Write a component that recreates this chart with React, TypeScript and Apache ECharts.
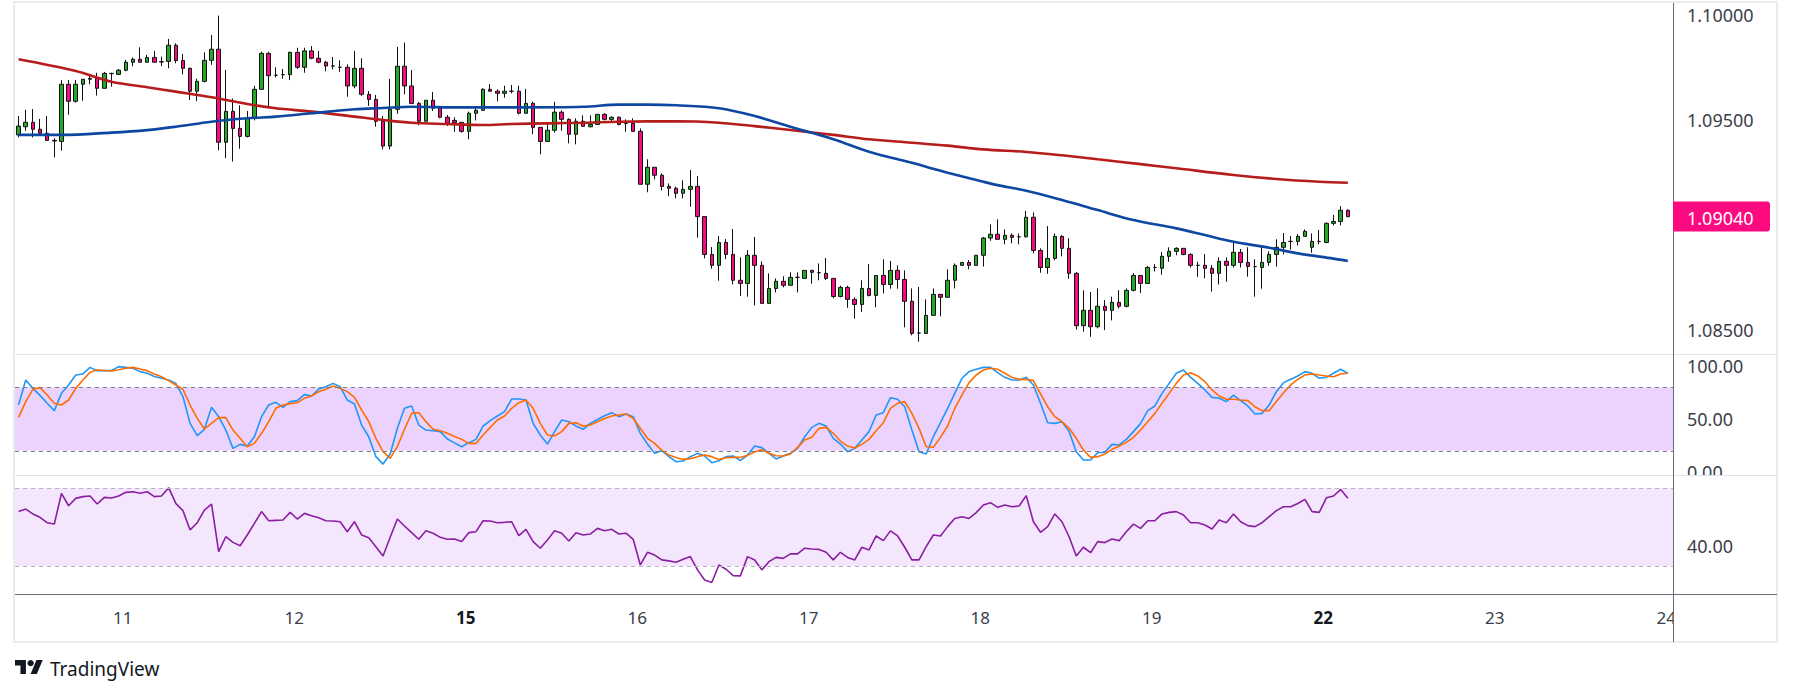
import React, { useEffect, useRef } from 'react';
import * as echarts from 'echarts';

// ---------- categories (hourly candles) ----------
const dayLabels = ['10', '11', '12', '15', '16', '17', '18', '19', '22', '23', '24'];
const firstDayFromHour = 10;
const lastDayToHour = 2;
const boldDays = ['15', '22'];

// ---------- price (OHLC) ----------
const opens = [
  1.09429, 1.09468, 1.09489, 1.09456, 1.09437, 1.09403, 1.09398, 1.09670, 1.09589, 1.09670,
  1.09694, 1.09698, 1.09651, 1.09722, 1.09717, 1.09737, 1.09775, 1.09789, 1.09775, 1.09798,
  1.09778, 1.09779, 1.09856, 1.09783, 1.09746, 1.09637, 1.09684, 1.09784, 1.09837, 1.09394,
  1.09541, 1.09460, 1.09422, 1.09508, 1.09646, 1.09817, 1.09713, 1.09716, 1.09716, 1.09822,
  1.09751, 1.09829, 1.09794, 1.09775, 1.09757, 1.09751, 1.09751, 1.09662, 1.09746, 1.09622,
  1.09598, 1.09494, 1.09376, 1.09551, 1.09756, 1.09662, 1.09579, 1.09494, 1.09594, 1.09556,
  1.09513, 1.09498, 1.09489, 1.09446, 1.09532, 1.09546, 1.09646, 1.09637, 1.09627, 1.09637,
  1.09637, 1.09532, 1.09579, 1.09465, 1.09398, 1.09451, 1.09537, 1.09503, 1.09432, 1.09494,
  1.09468, 1.09479, 1.09527, 1.09503, 1.09513, 1.09483, 1.09484, 1.09446, 1.09194, 1.09275,
  1.09237, 1.09184, 1.09175, 1.09151, 1.09170, 1.09184, 1.09040, 1.08860, 1.08808, 1.08917,
  1.08860, 1.08737, 1.08722, 1.08856, 1.08808, 1.08627, 1.08698, 1.08732, 1.08713, 1.08751,
  1.08746, 1.08784, 1.08773, 1.08770, 1.08746, 1.08660, 1.08703, 1.08646, 1.08622, 1.08698,
  1.08665, 1.08760, 1.08717, 1.08784, 1.08741, 1.08637, 1.08486, 1.08484, 1.08570, 1.08670,
  1.08656, 1.08737, 1.08808, 1.08822, 1.08808, 1.08856, 1.08938, 1.08956, 1.08932, 1.08951,
  1.08944, 1.08944, 1.09037, 1.08879, 1.08798, 1.08841, 1.08946, 1.08889, 1.08770, 1.08521,
  1.08594, 1.08516, 1.08613, 1.08594, 1.08632, 1.08613, 1.08689, 1.08760, 1.08722, 1.08798,
  1.08794, 1.08851, 1.08875, 1.08889, 1.08860, 1.08808, 1.08808, 1.08794, 1.08770, 1.08827,
  1.08808, 1.08870, 1.08822, 1.08802, 1.08798, 1.08822, 1.08860, 1.08894, 1.08922, 1.08922,
  1.08946, 1.08894, 1.08922, 1.08917, 1.09008, 1.09017, 1.09070,
];
const highs = [
  1.09519, 1.09548, 1.09552, 1.09505, 1.09519, 1.09413, 1.09690, 1.09690, 1.09690, 1.09694,
  1.09710, 1.09725, 1.09729, 1.09725, 1.09743, 1.09786, 1.09798, 1.09846, 1.09810, 1.09829,
  1.09802, 1.09886, 1.09865, 1.09814, 1.09749, 1.09697, 1.09822, 1.09905, 1.09997, 1.09738,
  1.09602, 1.09570, 1.09543, 1.09662, 1.09825, 1.09825, 1.09751, 1.09743, 1.09825, 1.09844,
  1.09844, 1.09852, 1.09829, 1.09781, 1.09800, 1.09784, 1.09765, 1.09829, 1.09794, 1.09638,
  1.09619, 1.09519, 1.09695, 1.09848, 1.09868, 1.09738, 1.09586, 1.09594, 1.09633, 1.09560,
  1.09524, 1.09513, 1.09489, 1.09540, 1.09560, 1.09651, 1.09671, 1.09646, 1.09663, 1.09667,
  1.09663, 1.09648, 1.09587, 1.09465, 1.09484, 1.09586, 1.09546, 1.09508, 1.09508, 1.09522,
  1.09522, 1.09527, 1.09532, 1.09517, 1.09517, 1.09503, 1.09508, 1.09460, 1.09313, 1.09275,
  1.09246, 1.09198, 1.09183, 1.09213, 1.09262, 1.09233, 1.09040, 1.08895, 1.08948, 1.08933,
  1.08981, 1.08846, 1.08881, 1.08943, 1.08827, 1.08770, 1.08746, 1.08756, 1.08775, 1.08775,
  1.08784, 1.08787, 1.08817, 1.08843, 1.08746, 1.08711, 1.08711, 1.08656, 1.08737, 1.08814,
  1.08760, 1.08837, 1.08829, 1.08808, 1.08784, 1.08698, 1.08705, 1.08646, 1.08698, 1.08670,
  1.08789, 1.08817, 1.08822, 1.08833, 1.08856, 1.08943, 1.09003, 1.09027, 1.08979, 1.08960,
  1.08960, 1.09067, 1.09060, 1.08889, 1.08995, 1.08960, 1.08952, 1.08937, 1.08776, 1.08689,
  1.08681, 1.08698, 1.08643, 1.08659, 1.08690, 1.08698, 1.08771, 1.08760, 1.08805, 1.08814,
  1.08871, 1.08894, 1.08894, 1.08889, 1.08865, 1.08825, 1.08862, 1.08810, 1.08846, 1.08846,
  1.08925, 1.08886, 1.08894, 1.08837, 1.08894, 1.08875, 1.08932, 1.08962, 1.08948, 1.08957,
  1.08979, 1.08960, 1.08976, 1.09013, 1.09048, 1.09090, 1.09075,
];
const lows = [
  1.09417, 1.09449, 1.09417, 1.09429, 1.09403, 1.09322, 1.09354, 1.09525, 1.09583, 1.09592,
  1.09670, 1.09616, 1.09651, 1.09659, 1.09714, 1.09732, 1.09756, 1.09775, 1.09775, 1.09775,
  1.09757, 1.09746, 1.09770, 1.09717, 1.09595, 1.09590, 1.09679, 1.09763, 1.09356, 1.09318,
  1.09302, 1.09363, 1.09417, 1.09498, 1.09643, 1.09563, 1.09703, 1.09697, 1.09690, 1.09743,
  1.09725, 1.09789, 1.09770, 1.09732, 1.09741, 1.09729, 1.09611, 1.09651, 1.09614, 1.09567,
  1.09468, 1.09360, 1.09360, 1.09530, 1.09622, 1.09575, 1.09475, 1.09494, 1.09543, 1.09508,
  1.09471, 1.09444, 1.09440, 1.09408, 1.09498, 1.09546, 1.09637, 1.09589, 1.09606, 1.09627,
  1.09527, 1.09532, 1.09432, 1.09337, 1.09398, 1.09440, 1.09449, 1.09389, 1.09384, 1.09470,
  1.09465, 1.09479, 1.09498, 1.09494, 1.09475, 1.09444, 1.09444, 1.09194, 1.09156, 1.09217,
  1.09165, 1.09137, 1.09127, 1.09127, 1.09087, 1.08940, 1.08841, 1.08792, 1.08735, 1.08837,
  1.08717, 1.08662, 1.08659, 1.08617, 1.08627, 1.08627, 1.08679, 1.08703, 1.08713, 1.08679,
  1.08743, 1.08721, 1.08737, 1.08738, 1.08651, 1.08656, 1.08606, 1.08554, 1.08586, 1.08660,
  1.08608, 1.08675, 1.08697, 1.08697, 1.08513, 1.08475, 1.08444, 1.08484, 1.08570, 1.08565,
  1.08656, 1.08698, 1.08808, 1.08789, 1.08808, 1.08802, 1.08925, 1.08932, 1.08908, 1.08913,
  1.08908, 1.08941, 1.08865, 1.08773, 1.08768, 1.08832, 1.08851, 1.08744, 1.08502, 1.08492,
  1.08468, 1.08508, 1.08500, 1.08546, 1.08603, 1.08608, 1.08684, 1.08676, 1.08722, 1.08779,
  1.08763, 1.08825, 1.08856, 1.08856, 1.08798, 1.08754, 1.08746, 1.08683, 1.08717, 1.08730,
  1.08798, 1.08798, 1.08754, 1.08659, 1.08697, 1.08806, 1.08802, 1.08860, 1.08883, 1.08903,
  1.08946, 1.08868, 1.08908, 1.08913, 1.08998, 1.08998, 1.09037,
];
const closes = [
  1.09471, 1.09489, 1.09456, 1.09437, 1.09403, 1.09400, 1.09670, 1.09589, 1.09670, 1.09694,
  1.09698, 1.09651, 1.09722, 1.09721, 1.09737, 1.09775, 1.09789, 1.09775, 1.09798, 1.09775,
  1.09776, 1.09856, 1.09783, 1.09746, 1.09637, 1.09684, 1.09784, 1.09837, 1.09394, 1.09541,
  1.09460, 1.09422, 1.09508, 1.09646, 1.09817, 1.09711, 1.09713, 1.09716, 1.09822, 1.09751,
  1.09829, 1.09794, 1.09775, 1.09757, 1.09757, 1.09751, 1.09662, 1.09746, 1.09622, 1.09598,
  1.09494, 1.09376, 1.09551, 1.09756, 1.09662, 1.09579, 1.09494, 1.09594, 1.09556, 1.09513,
  1.09484, 1.09487, 1.09446, 1.09532, 1.09546, 1.09646, 1.09637, 1.09627, 1.09637, 1.09637,
  1.09532, 1.09579, 1.09465, 1.09398, 1.09451, 1.09537, 1.09503, 1.09432, 1.09494, 1.09470,
  1.09479, 1.09527, 1.09503, 1.09513, 1.09479, 1.09483, 1.09446, 1.09194, 1.09275, 1.09237,
  1.09184, 1.09175, 1.09151, 1.09170, 1.09184, 1.09040, 1.08860, 1.08808, 1.08917, 1.08860,
  1.08737, 1.08722, 1.08856, 1.08808, 1.08627, 1.08698, 1.08732, 1.08713, 1.08751, 1.08751,
  1.08784, 1.08775, 1.08773, 1.08746, 1.08660, 1.08703, 1.08646, 1.08622, 1.08698, 1.08665,
  1.08760, 1.08717, 1.08784, 1.08741, 1.08637, 1.08484, 1.08486, 1.08570, 1.08670, 1.08656,
  1.08737, 1.08808, 1.08822, 1.08808, 1.08856, 1.08938, 1.08956, 1.08932, 1.08951, 1.08941,
  1.08944, 1.09037, 1.08879, 1.08798, 1.08841, 1.08946, 1.08889, 1.08770, 1.08521, 1.08594,
  1.08516, 1.08613, 1.08594, 1.08632, 1.08613, 1.08689, 1.08760, 1.08722, 1.08798, 1.08798,
  1.08851, 1.08875, 1.08889, 1.08860, 1.08808, 1.08808, 1.08794, 1.08770, 1.08827, 1.08808,
  1.08870, 1.08822, 1.08803, 1.08802, 1.08822, 1.08860, 1.08894, 1.08917, 1.08922, 1.08946,
  1.08970, 1.08922, 1.08922, 1.09008, 1.09017, 1.09070, 1.09040,
];
const lastPrice = 1.0904;

// ---------- moving averages: [candle index, value] ----------
const maRed = [
  [0, 1.09789], [8, 1.09733], [13, 1.09682], [18, 1.09656], [22, 1.09635], [27, 1.09608],
  [32, 1.09576], [36, 1.09556], [41, 1.0954], [47, 1.09516], [51, 1.095], [55, 1.09487],
  [60, 1.09481], [65, 1.09476], [69, 1.09481], [74, 1.09484], [79, 1.09487], [84, 1.09492],
  [92, 1.09494], [98, 1.09487], [103, 1.09471], [108, 1.09452], [114, 1.09429], [119, 1.09408],
  [125, 1.09392], [130, 1.09378], [135, 1.0936], [141, 1.09348], [146, 1.09332], [151, 1.09313],
  [157, 1.0929], [162, 1.0927], [170, 1.09238], [176, 1.09219], [182, 1.09206], [186, 1.09201],
];
const maBlue = [
  [0, 1.09429], [6, 1.09429], [13, 1.0944], [18, 1.09452], [22, 1.09468], [27, 1.09492],
  [32, 1.09508], [36, 1.09516], [41, 1.09532], [47, 1.09551], [51, 1.09557], [55, 1.09563],
  [62, 1.0956], [70, 1.0956], [79, 1.09563], [84, 1.09573], [88, 1.09573], [92, 1.0957],
  [98, 1.09556], [103, 1.09519], [108, 1.09468], [114, 1.09408], [119, 1.09349], [125, 1.09296],
  [128, 1.09268], [130, 1.09249], [135, 1.09206], [137, 1.0919], [141, 1.09163], [146, 1.09119],
  [151, 1.09071], [156, 1.09024], [162, 1.08984], [166, 1.08952], [170, 1.0892], [175, 1.08892],
  [179, 1.08865], [184, 1.0884], [186, 1.08829],
];

// ---------- stochastic ----------
const stochK = [
  63.2, 86.8, 78.9, 72.3, 64.8, 57.9, 74.2, 82.0, 91.5, 92.5,
  98.7, 95.6, 95.6, 95.6, 99.4, 98.7, 97.8, 94.7, 93.1, 90.0,
  88.4, 86.8, 83.6, 71.1, 45.9, 34.3, 40.3, 61.0, 52.2, 39.6,
  22.3, 26.1, 24.5, 33.3, 52.2, 63.2, 65.7, 61.0, 66.4, 67.3,
  73.0, 71.7, 78.3, 80.5, 83.6, 80.5, 67.9, 64.2, 44.3, 33.3,
  14.5, 7.5, 17.0, 41.2, 60.1, 62.3, 44.3, 39.6, 39.0, 38.1,
  31.1, 27.5, 23.9, 27.7, 30.8, 43.4, 48.4, 52.8, 56.9, 68.9,
  68.9, 67.9, 45.9, 34.9, 26.4, 38.1, 49.1, 47.5, 43.4, 40.3,
  45.9, 49.5, 53.0, 56.0, 52.2, 54.7, 52.2, 36.5, 26.4, 17.6,
  20.1, 14.5, 9.7, 10.4, 14.5, 17.6, 15.1, 8.8, 10.7, 14.5,
  15.1, 10.7, 16.0, 24.5, 23.0, 17.6, 12.3, 15.1, 17.6, 22.3,
  33.3, 42.1, 45.9, 43.4, 31.8, 26.4, 19.2, 22.3, 30.2, 38.1,
  53.8, 56.0, 70.1, 68.6, 61.6, 39.6, 19.2, 17.0, 33.3, 46.5,
  60.1, 74.2, 88.4, 94.7, 96.9, 98.7, 98.7, 93.7, 89.3, 86.8,
  86.8, 89.3, 82.1, 64.8, 46.5, 45.9, 47.5, 38.1, 19.2, 11.3,
  11.3, 18.2, 18.6, 26.1, 25.5, 30.8, 38.1, 45.9, 57.9, 62.3,
  74.2, 83.6, 93.1, 96.2, 89.3, 83.6, 77.4, 70.4, 69.5, 66.4,
  72.6, 67.3, 62.3, 54.7, 55.3, 63.2, 75.8, 84.3, 87.4, 90.6,
  94.7, 93.1, 88.4, 89.3, 93.1, 96.9, 93.1,
];
const stochD = [
  51.6, 66.4, 78.0, 79.6, 72.6, 64.8, 63.2, 67.9, 78.9, 86.8,
  94.0, 96.2, 95.8, 95.3, 96.5, 97.8, 98.7, 97.2, 95.6, 92.5,
  89.9, 86.2, 82.1, 78.0, 63.2, 50.6, 40.6, 45.9, 51.3, 51.3,
  39.6, 31.8, 23.9, 27.0, 36.5, 47.5, 60.1, 63.2, 64.5, 65.4,
  69.5, 71.7, 75.8, 78.0, 81.1, 78.9, 75.8, 70.4, 58.5, 47.5,
  31.8, 19.2, 12.9, 23.9, 40.3, 55.3, 56.0, 47.5, 40.3, 39.0,
  36.5, 33.5, 30.8, 27.0, 27.0, 34.9, 42.1, 49.1, 52.8, 60.1,
  65.4, 67.9, 60.1, 45.9, 34.9, 34.0, 38.1, 45.9, 46.5, 43.4,
  44.3, 47.5, 50.5, 52.8, 53.8, 54.7, 50.6, 41.2, 31.8, 27.0,
  20.4, 16.0, 13.8, 11.9, 12.6, 14.5, 16.0, 14.5, 11.9, 13.5,
  13.8, 13.8, 15.7, 18.9, 21.1, 17.6, 15.4, 15.1, 17.0, 23.3,
  30.2, 32.7, 41.2, 42.1, 36.5, 29.2, 24.5, 22.6, 26.1, 30.8,
  39.0, 46.5, 60.1, 64.8, 66.4, 55.3, 41.2, 23.9, 23.3, 32.7,
  43.4, 60.1, 72.6, 84.3, 91.5, 96.2, 97.8, 96.9, 93.1, 89.3,
  87.4, 87.4, 86.2, 73.6, 61.6, 52.2, 47.5, 41.2, 31.8, 20.8,
  13.8, 14.5, 17.0, 21.4, 24.5, 28.0, 32.7, 39.6, 47.5, 55.3,
  64.8, 74.2, 83.6, 91.5, 93.7, 90.6, 85.2, 77.4, 71.7, 68.6,
  68.6, 67.9, 67.3, 61.6, 57.9, 57.9, 66.4, 74.8, 82.1, 87.4,
  91.5, 92.5, 91.5, 90.6, 89.9, 92.5, 93.1,
];
const stochBand = [20, 80];
const stochTicks = [0, 50, 100];

// ---------- RSI ----------
const rsi = [
  57.9, 59.2, 56.7, 55.0, 52.2, 51.5, 67.3, 60.9, 64.7, 65.6,
  65.9, 61.8, 65.2, 64.9, 65.9, 67.8, 68.1, 67.3, 68.1, 65.6,
  65.9, 70.2, 62.1, 58.4, 48.5, 52.2, 58.7, 61.8, 37.4, 45.0,
  42.1, 40.4, 45.9, 51.9, 57.9, 53.2, 53.4, 53.6, 57.5, 54.1,
  57.0, 55.8, 54.8, 53.2, 53.1, 52.7, 47.6, 52.7, 45.9, 44.5,
  39.9, 35.1, 44.7, 54.1, 50.5, 47.1, 43.7, 48.1, 46.8, 44.7,
  43.7, 43.8, 42.5, 47.1, 47.6, 53.2, 53.1, 52.2, 52.4, 52.7,
  45.6, 48.8, 42.5, 39.1, 43.3, 48.1, 46.8, 42.8, 47.1, 45.9,
  46.4, 49.3, 48.1, 48.8, 46.4, 46.8, 43.7, 30.5, 37.0, 35.6,
  33.1, 32.6, 31.9, 33.4, 34.8, 28.0, 22.8, 21.5, 30.5, 28.3,
  25.0, 24.9, 34.8, 33.1, 28.0, 32.2, 34.4, 33.9, 36.2, 36.2,
  39.1, 38.7, 38.5, 37.0, 33.1, 37.0, 34.4, 33.1, 39.6, 38.2,
  45.4, 43.0, 48.0, 45.4, 39.6, 33.1, 33.1, 39.9, 45.9, 45.4,
  50.2, 54.4, 55.3, 54.4, 57.4, 61.3, 62.5, 60.1, 61.3, 60.4,
  60.8, 66.1, 52.7, 47.3, 50.2, 56.7, 52.7, 45.0, 35.1, 39.6,
  36.8, 42.5, 42.0, 43.8, 43.0, 47.6, 51.5, 49.3, 53.2, 53.2,
  56.7, 57.5, 57.9, 56.2, 52.2, 52.2, 51.0, 49.0, 53.6, 52.2,
  56.7, 52.7, 50.7, 50.2, 52.2, 55.3, 58.4, 60.4, 60.4, 62.1,
  64.2, 57.9, 57.5, 65.0, 65.9, 69.3, 64.7,
];
const rsiBand = [30, 70];
const rsiTicks = [40];
const priceTicks = [1.085, 1.095, 1.1];

// TradingView logo shape
echarts.graphic.registerShape(
  'tvlogo',
  echarts.graphic.extendPath('M14 22H7V11H0V4h14v18z M28 22h-8l7.5-18h8L28 22z', {})
);

function buildCategories(): string[] {
  const cats: string[] = [];
  dayLabels.forEach((d, di) => {
    const from = di === 0 ? firstDayFromHour : 0;
    const to = di === dayLabels.length - 1 ? lastDayToHour : 24;
    for (let h = from; h < to; h++) cats.push(d + ' ' + (h < 10 ? '0' : '') + h + ':00');
  });
  return cats;
}

const FONT = 'Noto Sans';
const TEXT = '#131722';
const AXTEXT = '#3b3e48';
const L = 15;
const R = 120;
const W = 1793;
const H = 695;
const AXIS_X = W - R; // price scale border
const RIGHT_EDGE = 1777;
const LOGO_S = 0.78;

function isTick(v: number, list: number[]) {
  return list.some((t) => Math.abs(t - v) < 1e-7);
}

export default function App() {
  const ref = useRef<HTMLDivElement>(null);
  useEffect(() => {
    if (!ref.current) return;
    const chart = echarts.init(ref.current, undefined, { renderer: 'svg', width: W, height: H });
    const cats = buildCategories();
    const candles = opens.map((o, i) => [o, closes[i], lows[i], highs[i]]);

    const hiddenX = (gi: number) => ({
      type: 'category',
      gridIndex: gi,
      data: cats,
      boundaryGap: true,
      axisLine: { show: false },
      axisTick: { show: false },
      axisLabel: { show: false },
      splitLine: { show: false },
    });

    const valueLabel = (list: number[], digits: number) => ({
      margin: 14,
      fontSize: 18,
      color: AXTEXT,
      showMinLabel: true,
      showMaxLabel: true,
      formatter: (v: number) => (isTick(v, list) ? v.toFixed(digits) : ''),
    });

    const option: any = {
      animation: false,
      textStyle: { fontFamily: FONT },
      grid: [
        { left: L, right: R, top: 3, height: 351 },
        { left: L, right: R, top: 354, height: 121 },
        { left: L, right: R, top: 475, height: 119 },
      ],
      xAxis: [
        hiddenX(0),
        hiddenX(1),
        {
          type: 'category',
          gridIndex: 2,
          data: cats,
          boundaryGap: true,
          axisLine: { show: false },
          axisTick: { show: false },
          splitLine: { show: false },
          axisLabel: {
            show: true,
            interval: (_i: number, v: string) => v.endsWith(' 00:00'),
            margin: 15,
            fontSize: 17,
            color: AXTEXT,
            fontFamily: FONT,
            formatter: (v: string) => {
              const d = v.split(' ')[0];
              return boldDays.includes(d) ? '{b|' + d + '}' : '{n|' + d + '}';
            },
            rich: {
              b: { fontWeight: 'bold', fontSize: 17, color: TEXT, fontFamily: FONT, padding: [0, 0, 0, 8] },
              n: { fontSize: 17, color: AXTEXT, fontFamily: FONT, padding: [0, 0, 0, 8] },
            },
          },
        },
      ],
      yAxis: [
        {
          type: 'value', gridIndex: 0, position: 'right',
          min: 1.08386, max: 1.10057, minInterval: 0.005, maxInterval: 0.005,
          splitLine: { show: false }, axisLine: { show: false }, axisTick: { show: false },
          axisLabel: valueLabel(priceTicks, 5),
        },
        {
          type: 'value', gridIndex: 1, position: 'right',
          min: -2.8, max: 111.3, minInterval: 50, maxInterval: 50,
          splitLine: { show: false }, axisLine: { show: false }, axisTick: { show: false },
          axisLabel: valueLabel(stochTicks, 2),
        },
        {
          type: 'value', gridIndex: 2, position: 'right',
          min: 15.6, max: 76.7, minInterval: 10, maxInterval: 10,
          splitLine: { show: false }, axisLine: { show: false }, axisTick: { show: false },
          axisLabel: valueLabel(rsiTicks, 2),
        },
      ],
      series: [
        {
          type: 'candlestick',
          xAxisIndex: 0,
          yAxisIndex: 0,
          data: candles,
          barWidth: 4,
          z: 3,
          itemStyle: {
            color: '#25a825',
            color0: '#f70a80',
            borderColor: '#111111',
            borderColor0: '#111111',
            borderColorDoji: '#111111',
            borderWidth: 1,
          },
        },
        {
          type: 'line', xAxisIndex: 0, yAxisIndex: 0, data: maRed, smooth: 0.35, symbol: 'none', z: 4,
          lineStyle: { color: '#b71c1c', width: 2.6 },
        },
        {
          type: 'line', xAxisIndex: 0, yAxisIndex: 0, data: maBlue, smooth: 0.35, symbol: 'none', z: 4,
          lineStyle: { color: '#0d47a1', width: 2.6 },
        },
        {
          type: 'line', xAxisIndex: 1, yAxisIndex: 1, data: [], z: 1, silent: true,
          markArea: {
            silent: true,
            itemStyle: { color: '#ebd3fd' },
            data: [[{ yAxis: stochBand[1] }, { yAxis: stochBand[0] }]],
          },
          markLine: {
            silent: true, symbol: 'none', label: { show: false },
            lineStyle: { color: '#787b86', type: [4, 4], width: 1 },
            data: stochBand.map((v) => ({ yAxis: v })),
          },
        },
        {
          type: 'line', xAxisIndex: 1, yAxisIndex: 1, data: stochK, symbol: 'none', z: 3,
          lineStyle: { color: '#2196f3', width: 1.6 },
        },
        {
          type: 'line', xAxisIndex: 1, yAxisIndex: 1, data: stochD, symbol: 'none', z: 3,
          lineStyle: { color: '#ff6d00', width: 1.6 },
        },
        {
          type: 'line', xAxisIndex: 2, yAxisIndex: 2, data: [], z: 1, silent: true,
          markArea: {
            silent: true,
            itemStyle: { color: '#f4e6fd' },
            data: [[{ yAxis: rsiBand[1] }, { yAxis: rsiBand[0] }]],
          },
          markLine: {
            silent: true, symbol: 'none', label: { show: false },
            lineStyle: { color: '#b2b5be', type: [4, 4], width: 1 },
            data: rsiBand.map((v) => ({ yAxis: v })),
          },
        },
        {
          type: 'line', xAxisIndex: 2, yAxisIndex: 2, data: rsi, symbol: 'none', z: 3,
          lineStyle: { color: '#8a1fa0', width: 1.6 },
        },
      ],
    };
    chart.setOption(option);

    const py = chart.convertToPixel({ yAxisIndex: 0 }, lastPrice) as number;
    const hline = (y: number, color: string, w = 1) => ({
      type: 'line',
      z: 60,
      silent: true,
      shape: { x1: L, y1: y, x2: RIGHT_EDGE, y2: y },
      style: { stroke: color, lineWidth: w },
    });
    const logoY = 656.9;
    chart.setOption({
      graphic: [
        { type: 'rect', z: 50, silent: true, shape: { x: AXIS_X + 1, y: 476, width: RIGHT_EDGE - AXIS_X - 1, height: 12 }, style: { fill: '#ffffff' } },
        { type: 'rect', z: 50, silent: true, shape: { x: AXIS_X + 1, y: 595, width: RIGHT_EDGE - AXIS_X - 1, height: 46 }, style: { fill: '#ffffff' } },
        { type: 'rect', z: 55, silent: true, shape: { x: L - 1, y: 2, width: RIGHT_EDGE - L + 1, height: 640 }, style: { fill: 'none', stroke: '#e9ebf1', lineWidth: 2 } },
        hline(354.5, '#e0e3eb'),
        hline(475.5, '#e0e3eb'),
        hline(594.5, '#6a6d78'),
        {
          type: 'line', z: 60, silent: true,
          shape: { x1: AXIS_X + 0.5, y1: 3, x2: AXIS_X + 0.5, y2: 642 },
          style: { stroke: '#6a6d78', lineWidth: 1 },
        },
        {
          type: 'rect', z: 70, silent: true,
          shape: { x: AXIS_X, y: py - 15, width: 97, height: 30, r: [0, 3, 3, 0] },
          style: { fill: '#fb0a80' },
        },
        {
          type: 'text', z: 71, silent: true, x: AXIS_X + 14, y: py + 1,
          style: { text: lastPrice.toFixed(5), fill: '#ffffff', font: '18px "Noto Sans"', verticalAlign: 'middle', align: 'left' },
        },
        { type: 'tvlogo', z: 70, silent: true, x: 15, y: logoY, scaleX: LOGO_S, scaleY: LOGO_S, style: { fill: TEXT } },
        { type: 'circle', z: 70, silent: true, shape: { cx: 15 + 20 * LOGO_S, cy: logoY + 8 * LOGO_S, r: 4 * LOGO_S }, style: { fill: TEXT } },
        {
          type: 'text', z: 70, silent: true, x: 50, y: 668.5,
          style: { text: 'TradingView', fill: TEXT, font: '19px "Noto Sans"', verticalAlign: 'middle', align: 'left' },
        },
      ],
    });
    return () => chart.dispose();
  }, []);
  return <div ref={ref} style={{ position: 'fixed', left: 0, top: 0, width: W, height: H, background: '#fff' }} />;
}
